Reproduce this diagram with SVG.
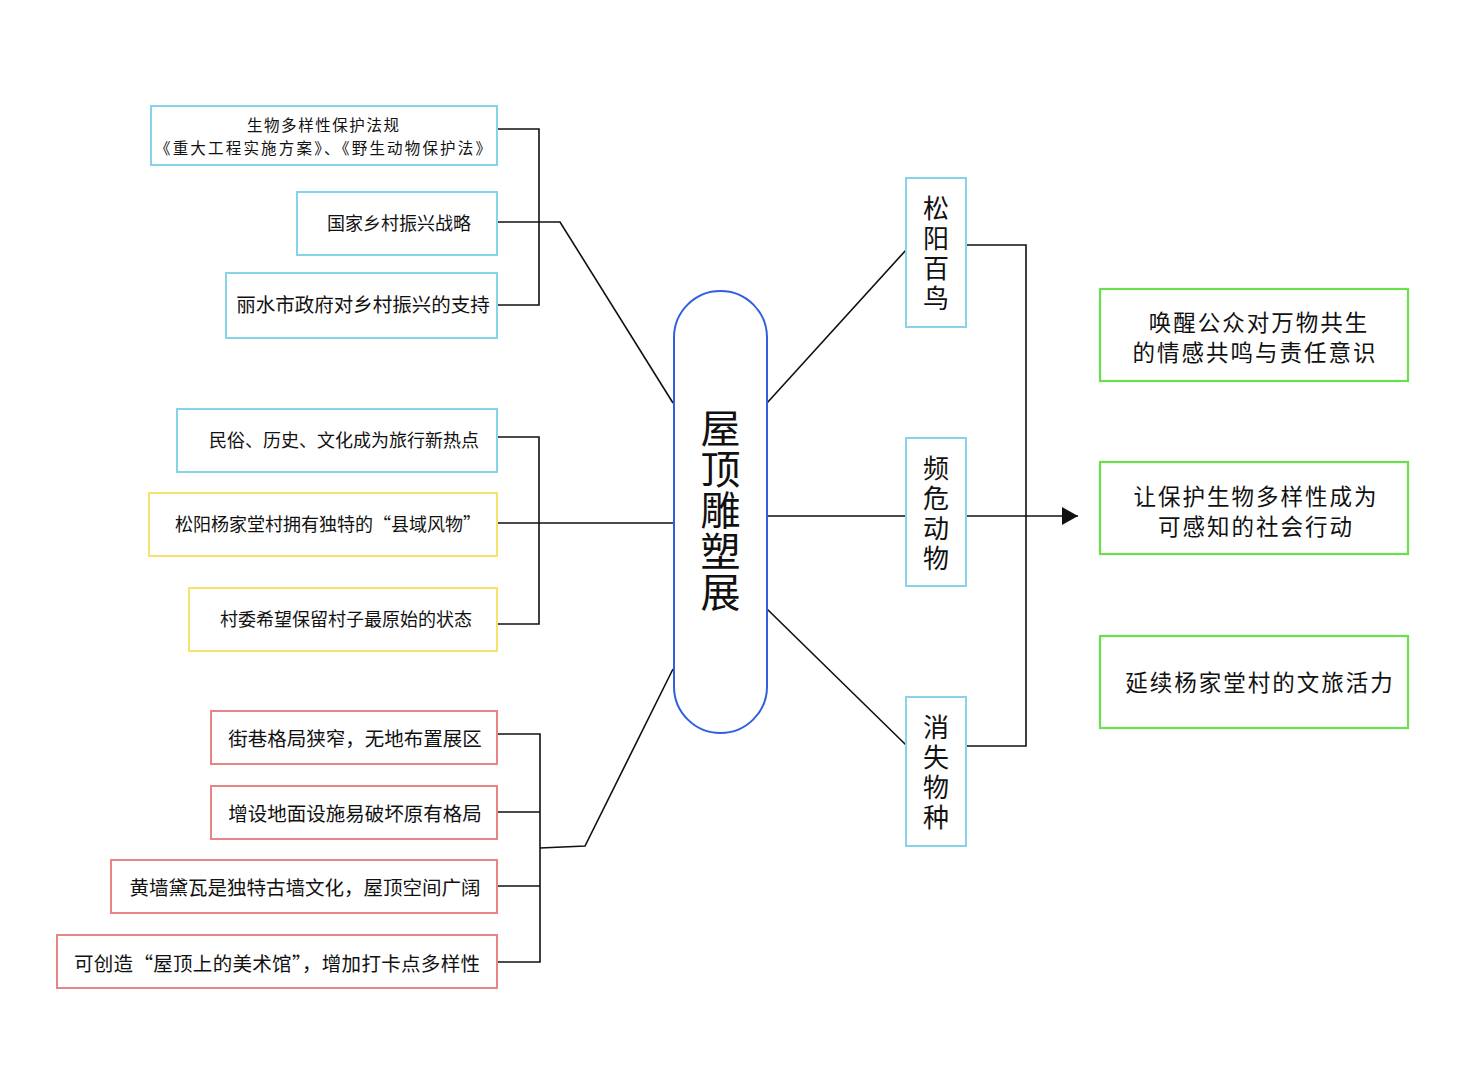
<svg xmlns="http://www.w3.org/2000/svg" width="1466" height="1080" viewBox="0 0 1466 1080">
<defs>
<style>
.t{font-family:"Noto Sans CJK SC","Noto Sans",sans-serif;fill:#111;text-anchor:middle;dominant-baseline:central}
.v{font-family:"Noto Sans CJK SC","Noto Sans",sans-serif;fill:#111;text-anchor:middle;writing-mode:vertical-rl;text-orientation:upright}
.blue{fill:#fff;stroke:#86d3ea;stroke-width:2}
.yel{fill:#fff;stroke:#f6e46a;stroke-width:2}
.red{fill:#fff;stroke:#e98486;stroke-width:2}
.grn{fill:#fff;stroke:#6ae04c;stroke-width:2.2}
.cap{fill:#fff;stroke:#2f5fe0;stroke-width:2}
.ln{fill:none;stroke:#111;stroke-width:1.6}
.s17{font-size:15.5px}.s18{font-size:18px}.s19{font-size:19.5px}.s24{font-size:22.5px;letter-spacing:2px}.s27{font-size:26px;letter-spacing:4px}.s40{font-size:40px;letter-spacing:1px}
</style>
<marker id="arr" markerWidth="16" markerHeight="18" refX="16" refY="9" orient="auto" markerUnits="userSpaceOnUse">
<path d="M0,0 L16,9 L0,18 Z" fill="#111"/>
</marker>
</defs>
<rect width="1466" height="1080" fill="#fff"/>
<g id="connectors">
<path class="ln" d="M497,129 H539 V305 H497 M497,222 H560 L673,403"/>
<path class="ln" d="M497,437 H539 V624 H497 M497,523 H674"/>
<path class="ln" d="M497,734 H540 V962 H497 M497,812 H540 M497,886 H540 M540,848 L585,846 L673,669"/>
<path class="ln" d="M767,403 L906,250 M767,516 H906 M767,609 L906,745"/>
<path class="ln" d="M966,245 H1026 V746 H966"/>
<path class="ln" d="M966,516 H1078" marker-end="url(#arr)"/>
</g>
<g id="n1"><rect class="blue" x="151" y="106" width="346" height="59"/><text class="t s17" x="323" y="123.5" textLength="152" lengthAdjust="spacing">生物多样性保护法规</text><text class="t s17" x="323" y="146.5" textLength="336" lengthAdjust="spacing">《重大工程实施方案》、《野生动物保护法》</text></g>
<g id="n2"><rect class="blue" x="297" y="192" width="200" height="63"/><text class="t s18" x="399" y="222">国家乡村振兴战略</text></g>
<g id="n3"><rect class="blue" x="226" y="273" width="271" height="65"/><text class="t s19" x="363" y="303">丽水市政府对乡村振兴的支持</text></g>
<g id="n4"><rect class="blue" x="177" y="409" width="320" height="63"/><text class="t s18" x="344" y="439">民俗、历史、文化成为旅行新热点</text></g>
<g id="n5"><rect class="yel" x="149" y="493" width="348" height="63"/><text class="t s18" x="328" y="523">松阳杨家堂村拥有独特的“县域风物”</text></g>
<g id="n6"><rect class="yel" x="189" y="588" width="308" height="63"/><text class="t s18" x="346" y="618">村委希望保留村子最原始的状态</text></g>
<g id="n7"><rect class="red" x="211" y="711" width="286" height="53"/><text class="t s19" x="355" y="737">街巷格局狭窄，无地布置展区</text></g>
<g id="n8"><rect class="red" x="211" y="786" width="286" height="53"/><text class="t s19" x="355" y="812">增设地面设施易破坏原有格局</text></g>
<g id="n9"><rect class="red" x="111" y="860" width="386" height="53"/><text class="t s19" x="305" y="886">黄墙黛瓦是独特古墙文化，屋顶空间广阔</text></g>
<g id="n10"><rect class="red" x="57" y="935" width="440" height="53"/><text class="t s19" x="277" y="962" textLength="406" lengthAdjust="spacing">可创造“屋顶上的美术馆”，增加打卡点多样性</text></g>
<g id="center"><rect class="cap" x="674" y="291" width="93" height="442" rx="46.5" ry="46.5"/>
<text class="v s40" x="720.5" y="510">屋顶雕塑展</text></g>
<g id="r1"><rect class="blue" x="906" y="178" width="60" height="149"/><text class="v s27" x="936" y="255">松阳百鸟</text></g>
<g id="r2"><rect class="blue" x="906" y="438" width="60" height="148"/><text class="v s27" x="936" y="515">频危动物</text></g>
<g id="r3"><rect class="blue" x="906" y="697" width="60" height="149"/><text class="v s27" x="936" y="774">消失物种</text></g>
<g id="g1"><rect class="grn" x="1100" y="289" width="308" height="92"/><text class="t s24"><tspan x="1259" y="321">唤醒公众对万物共生</tspan><tspan x="1255" y="351">的情感共鸣与责任意识</tspan></text></g>
<g id="g2"><rect class="grn" x="1100" y="462" width="308" height="92"/><text class="t s24"><tspan x="1256" y="495">让保护生物多样性成为</tspan><tspan x="1256" y="525">可感知的社会行动</tspan></text></g>
<g id="g3"><rect class="grn" x="1100" y="636" width="308" height="92"/><text class="t s24" x="1260" y="681">延续杨家堂村的文旅活力</text></g>
</svg>
